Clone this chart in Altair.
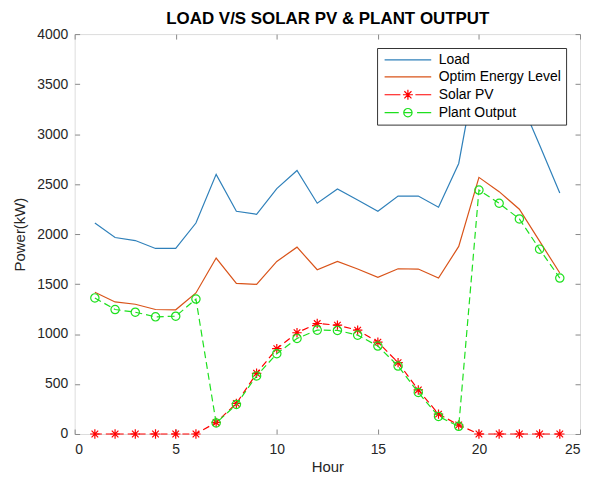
import altair as alt
import pandas as pd

hours = list(range(1, 25))
load = [2110, 1965, 1935, 1856, 1856, 2110, 2597, 2228, 2198, 2455, 2636, 2308,
        2450, 2340, 2228, 2380, 2380, 2268, 2706, 3800, 3590, 3360, 2890, 2410]
optim = [1417, 1321, 1298, 1245, 1242, 1411, 1760, 1507, 1497, 1726, 1869, 1643,
         1726, 1650, 1567, 1653, 1650, 1560, 1876, 2567, 2424, 2248, 1929, 1610]
solar = [0, 0, 0, 0, 0, 0, 116, 305, 607, 853, 1013, 1105,
         1089, 1039, 919, 714, 441, 199, 90, 0, 0, 0, 0, 0]
plant = [1361, 1245, 1218, 1172, 1178, 1350, 110, 295, 581, 803, 956, 1039,
         1036, 989, 880, 680, 415, 176, 77, 2440, 2308, 2151, 1849, 1560]

series_names = ["Load", "Optim Energy Level", "Solar PV", "Plant Output"]
series_colors = ["#2F80BA", "#D95319", "#FF0000", "#1EE01E"]
x_ticks = [0, 5, 10, 15, 20, 25]
y_ticks = [0, 500, 1000, 1500, 2000, 2500, 3000, 3500, 4000]
chart_title = "LOAD V/S SOLAR PV & PLANT OUTPUT"

W, H = 508, 402
FONT = "Liberation Sans"
AX = "#5f5f5f"
LBL = dict(labelFont=FONT, labelFontSize=14, labelColor="#262626", format="d")

STAR = "M0,-1V1M-1,0H1M-0.7,-0.7L0.7,0.7M-0.7,0.7L0.7,-0.7"
LEG_LINE = "M-5.6,0H5.6"
LEG_STAR = ("M-5.6,0H-1.8M1.8,0H5.6"
            "M0,-1.2V1.2M-1.2,0H1.2M-0.85,-0.85L0.85,0.85M-0.85,0.85L0.85,-0.85")
LEG_CIRC = ("M-5.6,0H-2.2M-1,0H1M2.2,0H5.6"
            "M1,0A1,1 0 1,1 -1,0A1,1 0 1,1 1,0")


def frame(vals, name):
    return pd.DataFrame({"hour": hours, "value": vals, "series": name})


df_load = frame(load, "Load")
df_optim = frame(optim, "Optim Energy Level")
df_solar = frame(solar, "Solar PV")
df_plant = frame(plant, "Plant Output")
df_all = pd.concat([df_load, df_optim, df_solar, df_plant])

xs = alt.Scale(domain=[0, 25], nice=False, zero=False)
ys = alt.Scale(domain=[0, 4000], nice=False)

# main labelled axes (no ticks)
x_main = alt.Axis(orient="bottom", values=x_ticks, tickSize=0, labelPadding=9,
                  domain=False, grid=False, title="Hour", titleFont=FONT,
                  titleFontSize=15, titleFontWeight="normal", titlePadding=3,
                  titleColor="#262626", **LBL)
y_main = alt.Axis(orient="left", values=y_ticks, tickSize=0, labelPadding=7,
                  domain=False, grid=False, title="Power(kW)", titleFont=FONT,
                  titleFontSize=15, titleFontWeight="normal", titlePadding=9,
                  titleColor="#262626", **LBL)
# chart title carried by a bare top axis
x_title = alt.Axis(orient="top", values=x_ticks, tickSize=0, labels=False,
                   domain=False, grid=False, title=chart_title, titleFont=FONT,
                   titleFontSize=17, titleFontWeight="bold", titleColor="#000000",
                   titlePadding=10, titleBaseline="alphabetic")
# inward ticks at bottom / left
x_in_bottom = alt.Axis(orient="top", offset=-H, values=x_ticks, tickSize=5,
                       labels=False, domain=False, grid=False, title=None)
y_in_left = alt.Axis(orient="right", offset=-W, values=y_ticks, tickSize=5,
                     labels=False, domain=False, grid=False, title=None)
# inward ticks at top / right
x_in_top = alt.Axis(orient="bottom", offset=-H, values=x_ticks, tickSize=5,
                    labels=False, domain=False, grid=False, title=None)
y_in_right = alt.Axis(orient="left", offset=-W, values=y_ticks, tickSize=5,
                      labels=False, domain=False, grid=False, title=None)


def xy(xaxis, yaxis):
    return dict(
        x=alt.X("hour:Q", scale=xs, axis=xaxis),
        y=alt.Y("value:Q", scale=ys, axis=yaxis),
    )


load_line = alt.Chart(df_load).mark_line(color=series_colors[0], strokeWidth=1.2).encode(
    **xy(x_main, y_main))
optim_line = alt.Chart(df_optim).mark_line(color=series_colors[1], strokeWidth=1.2).encode(
    **xy(x_in_bottom, y_in_left))
solar_line = alt.Chart(df_solar).mark_line(
    color=series_colors[2], strokeWidth=1.2, strokeDash=[7, 4]).encode(
    **xy(x_in_top, y_in_right))
solar_pts = alt.Chart(df_solar).mark_point(
    shape=STAR, size=90, filled=False, color=series_colors[2], strokeWidth=1.2,
    opacity=1).encode(**xy(x_title, None))
plant_line = alt.Chart(df_plant).mark_line(
    color=series_colors[3], strokeWidth=1.2, strokeDash=[7, 4]).encode(
    **xy(None, None))
plant_pts = alt.Chart(df_plant).mark_point(
    shape="circle", size=70, filled=False, color=series_colors[3], strokeWidth=1.2,
    opacity=1).encode(**xy(None, None))

leg = alt.Legend(
    title=None, orient="top-right", offset=14, fillColor="white",
    strokeColor="#333333", padding=5, symbolOffset=19, labelOffset=24,
    rowPadding=3, labelFont=FONT, labelFontSize=14, labelColor="#000000",
    labelLimit=400, symbolStrokeWidth=1.2, symbolOpacity=1, symbolSize=70,
    symbolFillColor="transparent",
)
legend_layer = alt.Chart(df_all).transform_filter("false").mark_point(
    filled=False, size=70, strokeWidth=1.2, opacity=1).encode(
    **xy(None, None),
    color=alt.Color("series:N", scale=alt.Scale(domain=series_names, range=series_colors),
                    legend=leg),
    shape=alt.Shape("series:N", scale=alt.Scale(domain=series_names,
                                                range=[LEG_LINE, LEG_LINE, LEG_STAR, LEG_CIRC]),
                    legend=leg),
)

chart = alt.layer(
    load_line, optim_line, solar_line, solar_pts, plant_line, plant_pts, legend_layer
).resolve_axis(x="independent", y="independent").properties(
    width=W, height=H,
    autosize=alt.AutoSizeParams(type="none"),
    padding={"left": 67, "top": 25, "right": 2, "bottom": 42},
).configure_axis(
    tickColor=AX, tickWidth=1,
).configure_view(stroke=AX, strokeWidth=1).configure(background="white")

chart.save("out.html", embed_options={"renderer": "svg", "actions": False})
